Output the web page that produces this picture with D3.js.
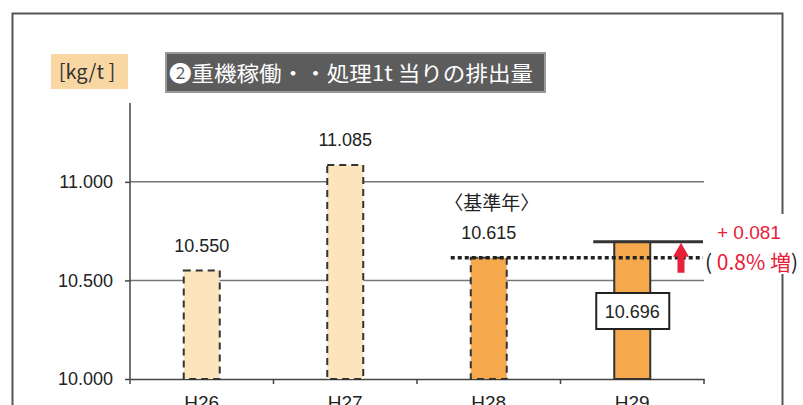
<!DOCTYPE html>
<html><head><meta charset="utf-8">
<script src="https://cdn.jsdelivr.net/npm/d3@7/dist/d3.min.js"></script>
<style>body{margin:0;background:#fff}svg{display:block}</style>
</head><body><svg id="c" width="803" height="405"></svg>
<script>
const categories = ["H26","H27","H28","H29"];
const values = [10.550, 11.085, 10.615, 10.696];
const valueLabels = ["10.550","11.085","10.615","10.696"];
const barKinds = ["past","past","base","current"];
const yTicks = [10.0, 10.5, 11.0];
const yTickLabels = ["10.000","10.500","11.000"];
const baseLabel = "〈基準年〉";
const titleText = "❷重機稼働・・処理1t 当りの排出量";
const unitText = "[kg/t ]";
const diffText = "+ 0.081";
const pctText = " 0.8% 増";

const svg = d3.select("#c");
const font = "'Liberation Sans', Arial, 'Noto Sans CJK JP', sans-serif";
const jfont = "'Noto Sans CJK JP', sans-serif";
const x = d3.scaleBand().domain(categories).range([130, 704]).paddingInner(0).paddingOuter(0);
const y = d3.scaleLinear().domain([10, 11.4]).range([379, 103]);
const bw = 36;
const fills = {past:"#FCE4BC", base:"#F5A84C", current:"#F5A84C"};

// frame
svg.append("path").attr("d","M12.5,405 V13.5 H782.5 V405").attr("fill","none").attr("stroke","#555").attr("stroke-width",2);

// gridlines
svg.append("g").selectAll("line").data(yTicks.slice(1)).join("line")
  .attr("x1",130).attr("x2",704).attr("y1",d=>y(d)).attr("y2",d=>y(d))
  .attr("stroke","#777").attr("stroke-width",1.5);

// y axis
const ya = svg.append("g").attr("transform","translate(130,0)")
  .call(d3.axisLeft(y).tickValues(yTicks).tickFormat((d,i)=>yTickLabels[i]).tickSize(5).tickPadding(12));
ya.select(".domain").attr("stroke","#444").attr("stroke-width",1.5).attr("d","M0,103V379");
ya.selectAll(".tick line").attr("stroke","#444").attr("stroke-width",1.5);
ya.selectAll(".tick text").attr("font-family",font).attr("font-size",18).attr("fill","#222");

// x axis
const xa = svg.append("g").attr("transform","translate(0,379)")
  .call(d3.axisBottom(x).tickSize(0).tickPadding(17));
xa.select(".domain").attr("stroke","#444").attr("stroke-width",1.5);
xa.selectAll(".tick text").attr("font-family",font).attr("font-size",19).attr("fill","#222");
svg.append("g").selectAll("line").data(categories.concat(["end"])).join("line")
  .attr("x1",(d,i)=>i<categories.length? x(d): x.range()[1]).attr("x2",(d,i)=>i<categories.length? x(d): x.range()[1])
  .attr("y1",379).attr("y2",384).attr("stroke","#444").attr("stroke-width",1.5);

// bars
svg.append("g").selectAll("rect").data(values).join("rect")
  .attr("x",(d,i)=>x(categories[i])+x.bandwidth()/2-bw/2)
  .attr("y",d=>y(d)).attr("width",bw).attr("height",d=>y(10)-y(d))
  .attr("fill",(d,i)=>fills[barKinds[i]])
  .attr("stroke","#333").attr("stroke-width",2)
  .attr("stroke-dasharray",(d,i)=>barKinds[i]==="current"?null:"7,5");

// value labels (except current)
svg.append("g").selectAll("text").data(values.slice(0,3)).join("text")
  .attr("x",(d,i)=>x(categories[i])+x.bandwidth()/2)
  .attr("y",d=>y(d)-19).attr("text-anchor","middle")
  .attr("font-family",font).attr("font-size",18).attr("fill","#222")
  .text((d,i)=>valueLabels[i]);

// base label
svg.append("text").attr("x",x("H28")+x.bandwidth()/2+3).attr("y",y(values[2])-48)
  .attr("text-anchor","middle").attr("font-family",jfont).attr("font-size",19).attr("fill","#222")
  .text(baseLabel);

// white area behind red annotations
svg.append("rect").attr("x",706).attr("y",214).attr("width",97).attr("height",60).attr("fill","#fff");

// dotted base line
const xb = x("H28")+x.bandwidth()/2;
svg.append("line").attr("x1",xb-38).attr("x2",703).attr("y1",y(values[2])).attr("y2",y(values[2]))
  .attr("stroke","#222").attr("stroke-width",3.5).attr("stroke-dasharray","4,3");

// current top line
const xc = x("H29")+x.bandwidth()/2;
svg.append("line").attr("x1",xc-39).attr("x2",703).attr("y1",y(values[3])).attr("y2",y(values[3]))
  .attr("stroke","#333").attr("stroke-width",3);

// red arrow
const ax = 681, aTop = y(values[3])+1, aBot = y(values[2])+15;
svg.append("path")
  .attr("d",`M${ax},${aTop} L${ax+8},${aTop+14} L${ax+3.5},${aTop+14} L${ax+3.5},${aBot} L${ax-3.5},${aBot} L${ax-3.5},${aTop+14} L${ax-8},${aTop+14} Z`)
  .attr("fill","#E8203A");

// red texts
svg.append("text").attr("x",717).attr("y",239).attr("font-family",font).attr("font-size",19).attr("fill","#E8203A").text(diffText);
const pt = svg.append("text").attr("x",705).attr("y",270).attr("font-family",jfont).attr("font-size",21).attr("fill","#E8203A");
pt.append("tspan").attr("fill","#222").text("(");
pt.append("tspan").text(pctText);
pt.append("tspan").attr("fill","#222").text(")");

// value box for current
svg.append("rect").attr("x",xc-36).attr("y",293).attr("width",73).attr("height",36)
  .attr("fill","#fff").attr("stroke","#222").attr("stroke-width",2);
svg.append("text").attr("x",xc).attr("y",318).attr("text-anchor","middle")
  .attr("font-family",font).attr("font-size",18).attr("fill","#222").text(valueLabels[3]);

// unit label
svg.append("rect").attr("x",51).attr("y",54).attr("width",77).attr("height",35).attr("fill","#F8D7A2");
svg.append("text").attr("x",87).attr("y",79).attr("text-anchor","middle")
  .attr("font-family",jfont).attr("font-size",20).attr("fill","#333").text(unitText);

// title
svg.append("rect").attr("x",166).attr("y",53).attr("width",379).attr("height",39)
  .attr("fill","#5c5c5c").attr("stroke","#9a9a9a").attr("stroke-width",2);
svg.append("text").attr("x",169).attr("y",81).attr("font-family",jfont).attr("font-size",21)
  .attr("fill","#fff").attr("textLength",364).attr("lengthAdjust","spacingAndGlyphs").text(titleText);
</script></body></html>
